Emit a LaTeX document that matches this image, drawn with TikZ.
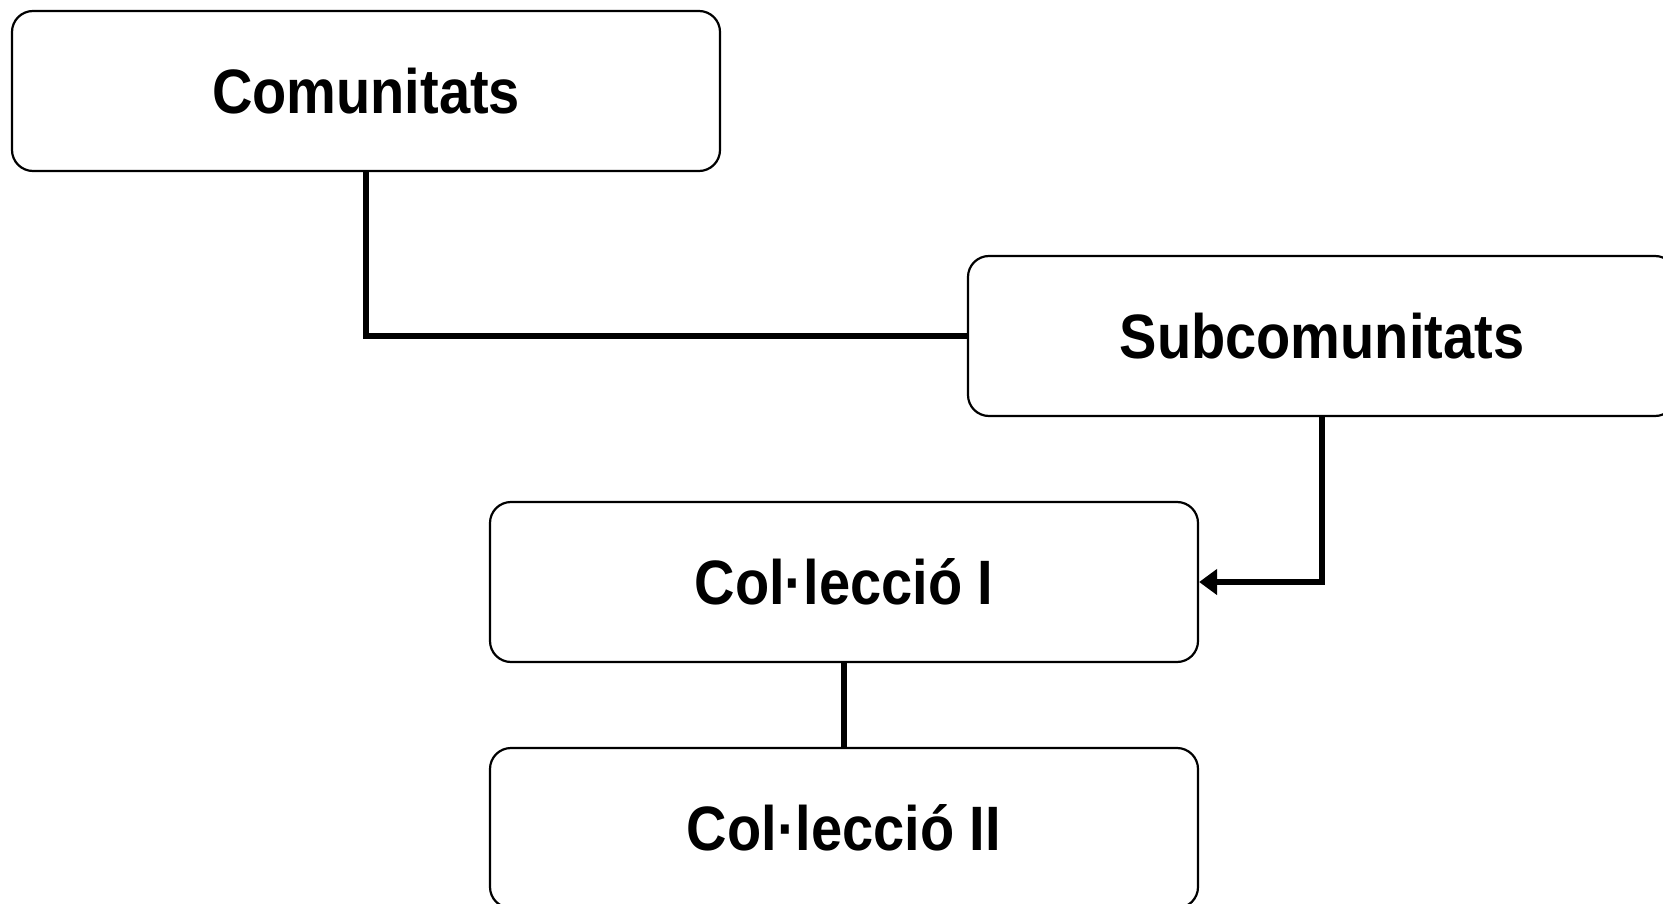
\documentclass[tikz,border=0pt]{standalone}
\usepackage{fontspec}
\setmainfont{Liberation Sans}
\usetikzlibrary{arrows.meta}
\newcommand{\boxtext}[1]{\scalebox{1}[1.12]{#1}}
\begin{document}
\begin{tikzpicture}[x=1pt,y=-1pt,
  box/.style={draw=black, line width=2.2pt, rounded corners=21pt, minimum width=708pt, minimum height=160pt, inner sep=0pt, font=\bfseries\fontsize{56}{60}\selectfont},
  conn/.style={draw=black, line width=5.5pt}]
\useasboundingbox (0,0) rectangle (1663,904);
\node[box] (com) at (366,91) {\boxtext{Comunitats}};
\node[box] (sub) at (1322,336) {\boxtext{Subcomunitats}};
\node[box] (c1) at (844,582) {\boxtext{Col·lecció I}};
\node[box] (c2) at (844,828) {\boxtext{Col·lecció II}};
\draw[conn] (com.south) |- (sub.west);
\draw[conn, -{Triangle[length=18pt,width=25pt]}] (sub.south) |- (c1.east);
\draw[conn] (c1.south) -- (c2.north);
\end{tikzpicture}
\end{document}
